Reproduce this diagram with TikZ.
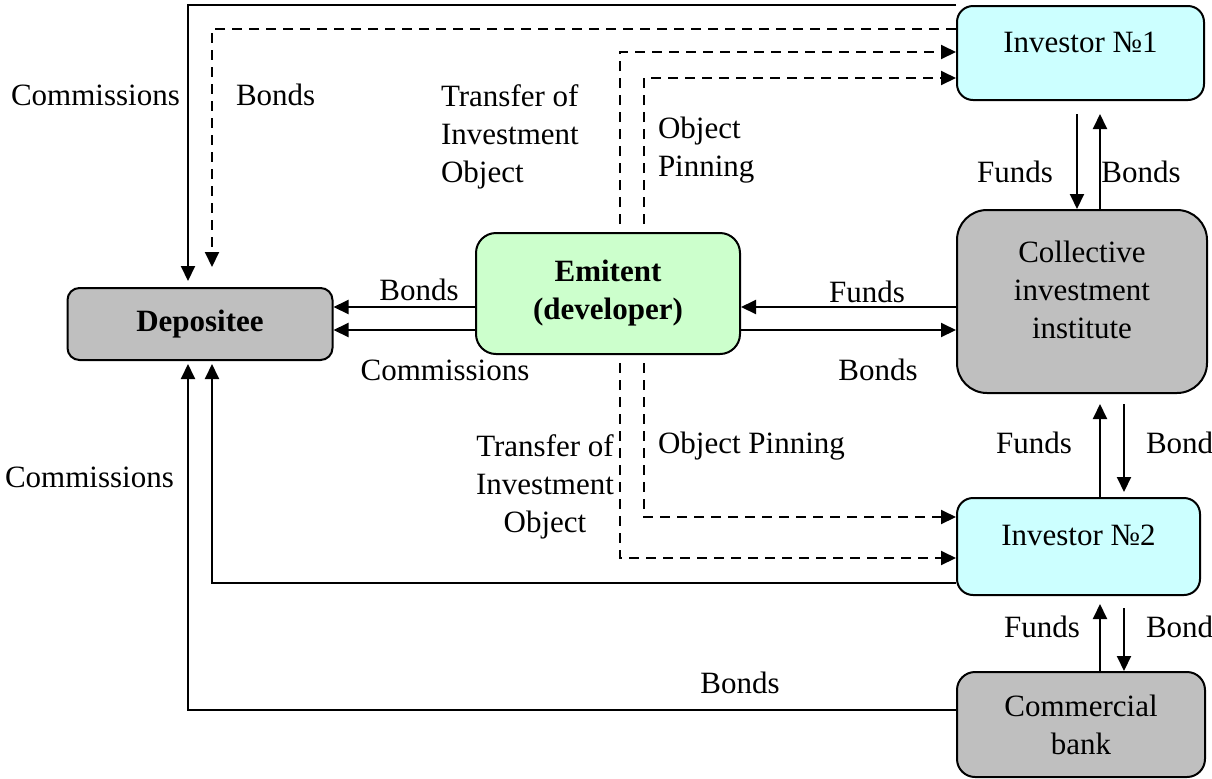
\documentclass[tikz,border=0pt]{standalone}
\usepackage{fontspec}
\setmainfont{Liberation Serif}
\usetikzlibrary{arrows.meta}
\definecolor{invcyan}{HTML}{CCFFFF}
\definecolor{emitgreen}{HTML}{CCFFCC}

\begin{document}
\begin{tikzpicture}[x=0.5pt, y=-0.5pt, line width=1pt, font=\fontsize{15.5pt}{19pt}\selectfont,
    box/.style={rectangle, draw=black, line width=1pt, inner sep=0pt, align=center},
    flow/.style={-{Triangle[length=7.5pt,width=7pt]}},
    dflow/.style={flow, dash pattern=on 5pt off 3.5pt},
    lbl/.style={inner sep=0pt}]
        \useasboundingbox (0,0) rectangle (1212,778);
        \node(101) at (200,324) [box, fill=black!25, minimum width=132.5pt, minimum height=36pt, rounded corners=6pt] {\textbf{Depositee}};
        \node(102) at (608,293.5) [box, fill=emitgreen, minimum width=132pt, minimum height=60.5pt, rounded corners=10pt] {\textbf{Emitent}\\\textbf{(developer)}};
        \node(103) at (1080.5,53) [box, fill=invcyan, minimum width=123.5pt, minimum height=47pt, rounded corners=8pt, text depth=11pt] {Investor №1};
        \node(104) at (1082,301.5) [box, fill=black!25, minimum width=125pt, minimum height=91.5pt, rounded corners=15pt, text depth=12pt] {Collective\\investment\\institute};
        \node(105) at (1078.5,546.5) [box, fill=invcyan, minimum width=121.5pt, minimum height=48.5pt, rounded corners=8pt, text depth=11pt] {Investor №2};
        \node(106) at (1081,724.5) [box, fill=black!25, minimum width=124pt, minimum height=52.5pt, rounded corners=9pt] {Commercial\\bank};
        % investor 1 -> depositee
        \draw [flow, shorten >=3pt] (103.north west) -| ([xshift=-6pt]101.north);
        \draw [dflow, shorten >=10pt] ([yshift=-12pt]103.north west) -| ([xshift=6pt]101.north);
        \node(201) at (10,105) [lbl, anchor=base west] {Commissions};
        \node(202) at (235,105) [lbl, anchor=base west] {Bonds};
        % emitent -> investor 1
        \draw [dflow, shorten <=4pt] ([xshift=6pt]102.north) |- ([yshift=-23.5pt]103.north west);
        \draw [dflow, shorten <=4pt] ([xshift=18pt]102.north) |- ([yshift=-36.5pt]103.north west);
        \node(203) at (440,84) [lbl, anchor=north west, align=left] {Transfer of\\Investment\\Object};
        \node(204) at (657,116) [lbl, anchor=north west, align=left] {Object\\Pinning};
        % investor 1 <-> collective
        \draw [flow, shorten <=6.5pt] ([xshift=-1.75pt]103.south) -- ([xshift=-1.75pt]103.south |- 104.north);
        \draw [flow, shorten >=6.5pt] ([xshift=9.75pt]103.south |- 104.north) -- ([xshift=9.75pt]103.south);
        \node(205) at (1015,182) [lbl, anchor=base] {Funds};
        \node(206) at (1141,182) [lbl, anchor=base] {Bonds};
        % emitent -> depositee
        \draw [flow] ([yshift=-6.75pt]102.west) -- ([yshift=-6.75pt]102.west -| 101.east);
        \draw [flow] ([yshift=-18.25pt]102.west) -- ([yshift=-18.25pt]102.west -| 101.east);
        \node(207) at (419,300) [lbl, anchor=base] {Bonds};
        \node(208) at (445,380) [lbl, anchor=base] {Commissions};
        % collective <-> emitent
        \draw [flow] ([yshift=-6.75pt]102.east -| 104.west) -- ([yshift=-6.75pt]102.east);
        \draw [flow] ([yshift=-18.25pt]102.east) -- ([yshift=-18.25pt]102.east -| 104.west);
        \node(209) at (867,302) [lbl, anchor=base] {Funds};
        \node(210) at (878,380) [lbl, anchor=base] {Bonds};
        % emitent -> investor 2
        \draw [dflow, shorten <=4pt] ([xshift=6pt]102.south) |- ([yshift=-5.75pt]105.west);
        \draw [dflow, shorten <=4pt] ([xshift=18pt]102.south) |- ([yshift=14.75pt]105.west);
        \node(211) at (545,434) [lbl, anchor=north, align=center] {Transfer of\\Investment\\Object};
        \node(212) at (657,453) [lbl, anchor=base west] {Object Pinning};
        % collective <-> investor 2
        \draw [flow, shorten >=5pt] ([xshift=10.75pt]105.north) -- ([xshift=10.75pt]105.north |- 104.south);
        \draw [flow, shorten <=5pt, shorten >=2.5pt] ([xshift=22.75pt]105.north |- 104.south) -- ([xshift=22.75pt]105.north);
        \node(213) at (1034,453) [lbl, anchor=base] {Funds};
        \node(214) at (1145,453) [lbl, anchor=base west] {Bond};
        % investor 2, bank -> depositee
        \draw [flow, shorten >=1.5pt] ([yshift=-18.25pt]105.west) -| ([xshift=6pt]101.south);
        \draw [flow, shorten >=1.5pt] ([yshift=7.25pt]106.west) -| ([xshift=-6pt]101.south);
        \node(215) at (4,487) [lbl, anchor=base west] {Commissions};
        % bank <-> investor 2
        \draw [flow, shorten >=4pt] ([xshift=10.75pt]105.south |- 106.north) -- ([xshift=10.75pt]105.south);
        \draw [flow, shorten <=6pt] ([xshift=22.75pt]105.south) -- ([xshift=22.75pt]105.south |- 106.north);
        \node(216) at (1042,637) [lbl, anchor=base] {Funds};
        \node(217) at (1145,637) [lbl, anchor=base west] {Bond};
        \node(218) at (740,693) [lbl, anchor=base] {Bonds};
\end{tikzpicture}
\end{document}
